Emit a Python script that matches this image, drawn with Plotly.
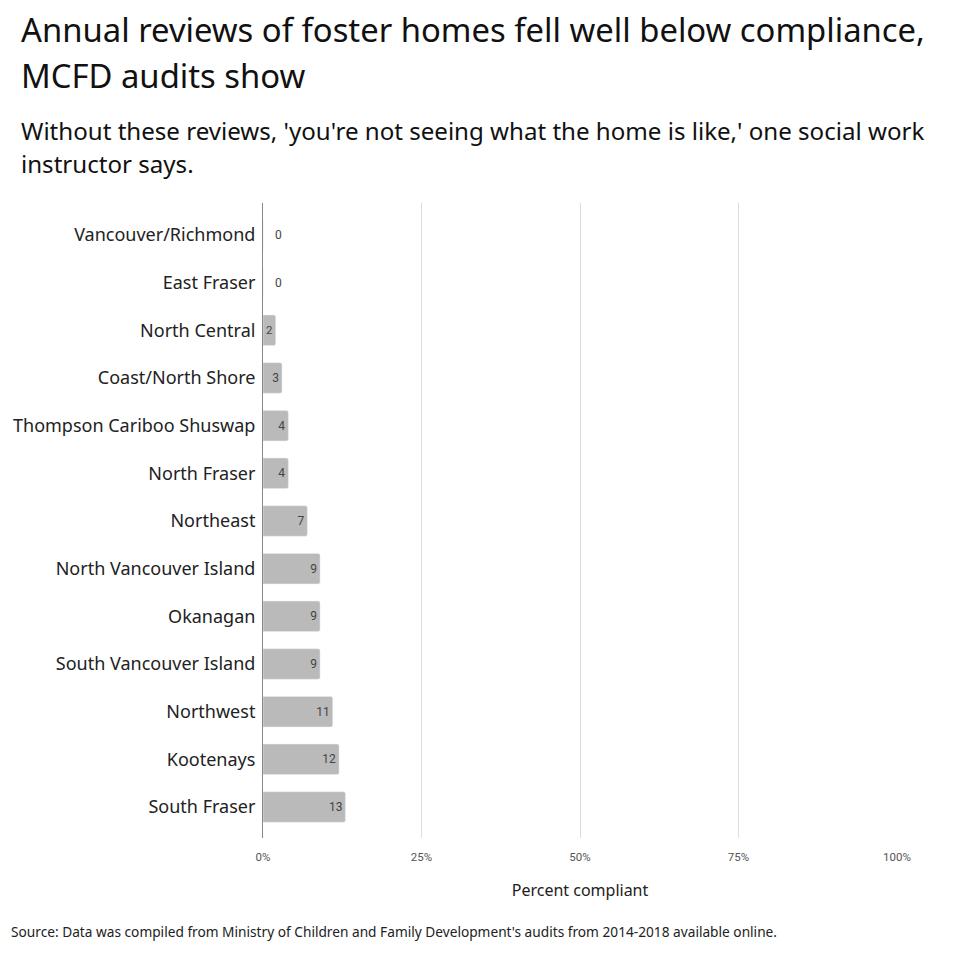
import plotly.graph_objects as go

regions = ["Vancouver/Richmond", "East Fraser", "North Central", "Coast/North Shore",
           "Thompson Cariboo Shuswap", "North Fraser", "Northeast", "North Vancouver Island",
           "Okanagan", "South Vancouver Island", "Northwest", "Kootenays", "South Fraser"]
percent = [0, 0, 2, 3, 4, 4, 7, 9, 9, 9, 11, 12, 13]
x_ticks = [0, 25, 50, 75, 100]
x_tick_labels = ["0%", "25%", "50%", "75%", "100%"]

title_lines = ["Annual reviews of foster homes fell well below compliance,", "MCFD audits show"]
subtitle_lines = ["Without these reviews, 'you're not seeing what the home is like,' one social work",
                  "instructor says."]
source = "Source: Data was compiled from Ministry of Children and Family Development's audits from 2014-2018 available online."

FONT = "Noto Sans"
OFF = 8  # page offset of the figure
W, H = 960, 960
L, R, T, B = 263 - OFF, 960 - 897 + OFF, 203 - OFF, 960 - 838 + OFF
ph = H - T - B
pw = W - L - R

def py(p):
    return (H - B - (p - OFF)) / ph

def px(p):
    return (p - OFF - L) / pw

fig = go.Figure(go.Bar(
    y=regions, x=percent, orientation="h",
    marker=dict(color="#bababa"),
    width=0.64,
    text=[("\u00a0\u00a0\u00a0" + str(v)) if v == 0 else str(v) for v in percent],
    textposition=["outside" if v == 0 else "inside" for v in percent],
    insidetextanchor="end",
    textangle=0,
    cliponaxis=False,
    textfont=dict(family="Roboto", size=12, color="#444444"),
    hoverinfo="skip",
))

annotations = []
for i, line in enumerate(title_lines):
    annotations.append(dict(text=line, x=px(19), y=py(30 + 45 * i), xref="paper", yref="paper",
                            xanchor="left", yanchor="middle", showarrow=False,
                            font=dict(family=FONT, size=32.8, color="#111111")))
for i, line in enumerate(subtitle_lines):
    annotations.append(dict(text=line, x=px(19), y=py(131 + 33 * i), xref="paper", yref="paper",
                            xanchor="left", yanchor="middle", showarrow=False,
                            font=dict(family=FONT, size=24.1, color="#111111")))
annotations.append(dict(text=source, x=px(9), y=py(931), xref="paper", yref="paper",
                        xanchor="left", yanchor="middle", showarrow=False,
                        font=dict(family=FONT, size=13.7, color="#222222")))

fig.update_layout(
    width=W, height=H,
    margin=dict(l=L, r=R, t=T, b=B),
    paper_bgcolor="white", plot_bgcolor="white",
    showlegend=False,
    barcornerradius=2,
    annotations=annotations,
    xaxis=dict(range=[0, 100], tickvals=x_ticks, ticktext=x_tick_labels,
               automargin=False,
               showgrid=True, gridcolor="#dddddd", gridwidth=1,
               zeroline=False, showline=False, ticks="",
               ticklabelstandoff=10,
               tickfont=dict(family="Roboto", size=11.5, color="#555555"),
               title=dict(text="Percent compliant", font=dict(family=FONT, size=16, color="#222222"),
                          standoff=22)),
    yaxis=dict(autorange=False, range=[12.65, -0.67], showgrid=False, zeroline=False,
               automargin=False,
               showline=True, linecolor="#888888", linewidth=1, ticks="",
               ticklabelstandoff=3,
               tickfont=dict(family=FONT, size=18, color="#222222")),
)

fig.write_html("out.html")
